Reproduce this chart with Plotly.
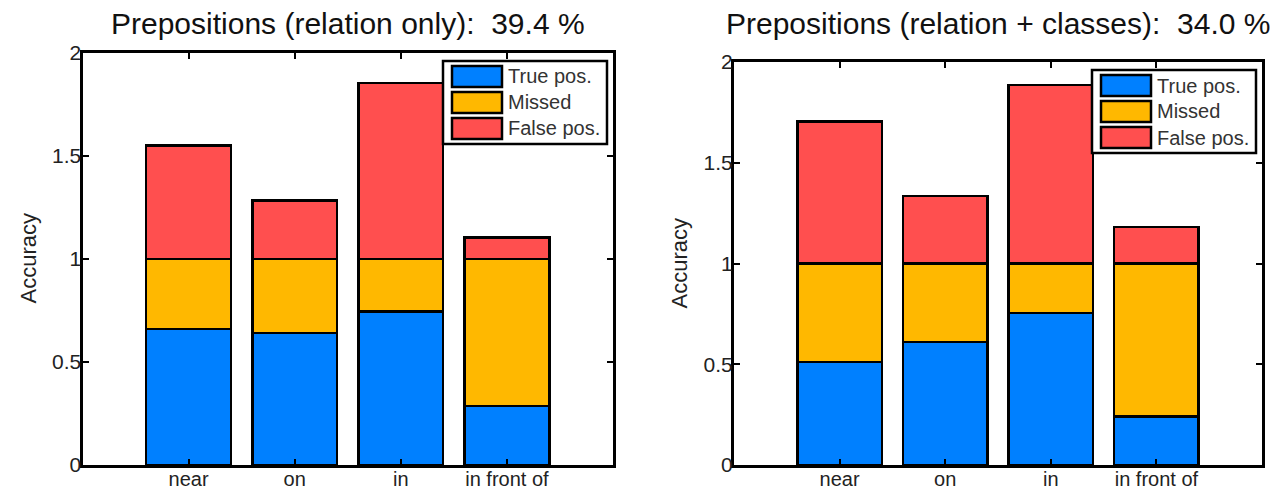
import plotly.graph_objects as go

# ---- data -------------------------------------------------------------
categories = ["near", "on", "in", "in front of"]
series_names = ["True pos.", "Missed", "False pos."]

# relation only
rel_true_pos = [0.66, 0.64, 0.745, 0.287]
rel_missed = [0.34, 0.36, 0.255, 0.713]
rel_false_pos = [0.55, 0.285, 0.855, 0.105]

# relation + classes
cls_true_pos = [0.51, 0.61, 0.755, 0.24]
cls_missed = [0.49, 0.39, 0.245, 0.76]
cls_false_pos = [0.705, 0.335, 0.885, 0.18]

titles = ["Prepositions (relation only): \u00a039.4 %",
          "Prepositions (relation + classes): \u00a034.0 %"]
y_tick_vals = [0, 0.5, 1, 1.5, 2]
y_tick_text = ["0", "0.5", "1", "1.5", "2"]

colors = ["#0080FF", "#FFB800", "#FF4F4F"]

# ---- geometry (pixels) ------------------------------------------------
W, H = 1274, 492
panels = [
    dict(x0=82.5, x1=613, ytop=53, ybot=465),
    dict(x0=734, x1=1262, ytop=62, ybot=465),
]
FONT = "Liberation Sans, Arial, sans-serif"

fig = go.Figure()
data_sets = [
    [rel_true_pos, rel_missed, rel_false_pos],
    [cls_true_pos, cls_missed, cls_false_pos],
]

for i, (panel, series) in enumerate(zip(panels, data_sets)):
    xa = "x" if i == 0 else "x2"
    ya = "y" if i == 0 else "y2"
    for name, vals, col in zip(series_names, series, colors):
        fig.add_trace(go.Bar(
            x=categories, y=vals, name=name, xaxis=xa, yaxis=ya,
            width=0.8, marker=dict(color=col, line=dict(color="black", width=2.5)),
            showlegend=False,
        ))

axis_common = dict(
    showline=True, linecolor="black", linewidth=3, mirror="ticks",
    ticks="inside", ticklen=6, tickwidth=2, tickcolor="black",
    showgrid=False, zeroline=False, automargin=False,
    tickfont=dict(family=FONT, size=21, color="#222"),
)

layout = dict(
    width=W, height=H, margin=dict(l=0, r=0, t=0, b=0, autoexpand=False),
    paper_bgcolor="white", plot_bgcolor="white",
    barmode="stack", bargap=0.2, showlegend=False,
)

shapes = []
annotations = []
for i, panel in enumerate(panels):
    sfx = "" if i == 0 else "2"
    layout["xaxis" + sfx] = dict(
        axis_common, domain=[panel["x0"] / W, panel["x1"] / W],
        anchor="y" + sfx, type="category", range=[-1, 4],
        ticklabelstandoff=-6,
        tickfont=dict(family=FONT, size=20, color="#222"),
    )
    layout["yaxis" + sfx] = dict(
        axis_common, domain=[1 - panel["ybot"] / H, 1 - panel["ytop"] / H],
        anchor="x" + sfx, range=[0, 2],
        tickvals=y_tick_vals, ticktext=y_tick_text,
        ticklabelstandoff=-6,
    )
    pw = panel["x1"] - panel["x0"]
    ph = panel["ybot"] - panel["ytop"]
    xr, yr = "x%s domain" % sfx, "y%s domain" % sfx

    def fx(px):
        return (px - panel["x0"]) / pw

    def fy(py):
        return (panel["ybot"] - py) / ph

    # title
    annotations.append(dict(
        text=titles[i], xref="paper", yref="paper",
        x=(panel["x0"] + panel["x1"]) / 2 / W, y=1 - 23 / H,
        xanchor="center", yanchor="middle", showarrow=False,
        font=dict(family=FONT, size=30, color="#111"),
    ))
    # y-axis label
    annotations.append(dict(
        text="Accuracy", xref="paper", yref="paper",
        x=(panel["x0"] - 55) / W, y=1 - (panel["ytop"] + panel["ybot"]) / 2 / H,
        xanchor="center", yanchor="middle", textangle=-90, showarrow=False,
        font=dict(family=FONT, size=22, color="#222"),
    ))
    # legend box (top-right inside the axes)
    lx0 = panel["x1"] - 170
    lx1 = panel["x1"] - 6
    ly0 = panel["ytop"] + 8
    ly1 = ly0 + 83
    shapes.append(dict(type="rect", xref=xr, yref=yr,
                       x0=fx(lx0), x1=fx(lx1), y0=fy(ly1), y1=fy(ly0),
                       fillcolor="white", line=dict(color="black", width=2.5)))
    for k, (name, col) in enumerate(zip(series_names, colors)):
        sy0 = ly0 + 5 + k * 26
        shapes.append(dict(type="rect", xref=xr, yref=yr,
                           x0=fx(lx0 + 9), x1=fx(lx0 + 59),
                           y0=fy(sy0 + 21), y1=fy(sy0),
                           fillcolor=col, line=dict(color="black", width=2.5)))
        annotations.append(dict(
            text=name, xref=xr, yref=yr, x=fx(lx0 + 63), y=fy(sy0 + 10.5),
            xanchor="left", yanchor="middle", showarrow=False,
            font=dict(family=FONT, size=20, color="#333"),
        ))

layout["shapes"] = shapes
layout["annotations"] = annotations
fig.update_layout(**layout)
fig.write_html("out.html")
